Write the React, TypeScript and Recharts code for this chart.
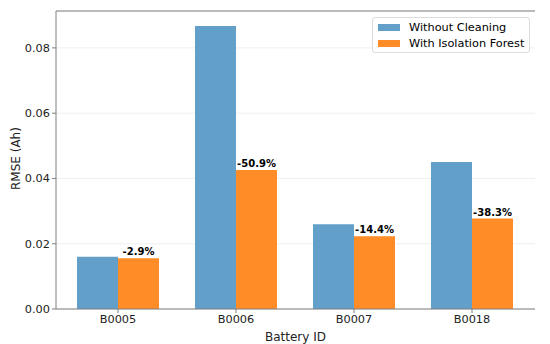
import { BarChart, Bar, XAxis, YAxis, CartesianGrid, LabelList, ReferenceLine } from 'recharts'

const batteries = ['B0005', 'B0006', 'B0007', 'B0018']
const withoutCleaning = [0.0160, 0.0867, 0.0260, 0.0450]
const withIsolationForest = [0.01554, 0.0426, 0.02226, 0.0277]
const changeLabels = ['-2.9%', '-50.9%', '-14.4%', '-38.3%']
const yTicks = [0, 0.02, 0.04, 0.06, 0.08]
const yMax = 0.0913

const BLUE = '#62a0ca'
const ORANGE = '#ff8c26'
const FRAME = '#7f7f7f'
const FONT = '"DejaVu Sans", sans-serif'

const data = batteries.map((b, i) => ({
  battery: b,
  without: withoutCleaning[i],
  withIF: withIsolationForest[i],
  change: changeLabels[i],
}))

// legend drawn as an overlay so it doesn't push the plot area down
function LegendBox() {
  const items = [
    { label: 'Without Cleaning', color: BLUE },
    { label: 'With Isolation Forest', color: ORANGE },
  ]
  return (
    <div
      style={{
        position: 'absolute',
        left: 372,
        top: 17,
        width: 158,
        height: 36,
        boxSizing: 'border-box',
        border: '1px solid #dcdcdc',
        borderRadius: 3,
        background: 'rgba(255,255,255,0.8)',
        padding: '1px 0 0 5px',
        fontFamily: FONT,
        fontSize: 11.3,
        color: '#000',
      }}
    >
      {items.map((it) => (
        <div key={it.label} style={{ display: 'flex', alignItems: 'center', height: 16.5 }}>
          <span style={{ width: 22, height: 7, background: it.color, marginRight: 9, display: 'inline-block' }} />
          <span>{it.label}</span>
        </div>
      ))}
    </div>
  )
}

export default function App() {
  return (
    <div style={{ position: 'absolute', left: 0, top: 0, width: 550, height: 344, background: '#fff' }}>
      <BarChart
        width={550}
        height={344}
        data={data}
        margin={{ top: 11, right: 15, left: 0, bottom: 0 }}
        barGap={0}
        barSize={41}
      >
        <CartesianGrid vertical={false} stroke="#ebebeb" strokeWidth={0.8} />
        <XAxis
          dataKey="battery"
          height={35}
          padding={{ left: 3, right: 4 }}
          axisLine={{ stroke: FRAME }}
          tickLine={{ stroke: FRAME }}
          tickSize={4}
          tick={{ fontSize: 11.3, fill: '#222', fontFamily: FONT }}
          label={{ value: 'Battery ID', position: 'insideBottom', offset: 3, fontSize: 12, fill: '#222', fontFamily: FONT }}
        />
        <YAxis
          width={56}
          domain={[0, yMax]}
          ticks={yTicks}
          allowDataOverflow
          tickFormatter={(v: number) => v.toFixed(2)}
          axisLine={{ stroke: FRAME }}
          tickLine={{ stroke: FRAME }}
          tickSize={4}
          tickMargin={2}
          tick={{ fontSize: 11.3, fill: '#222', fontFamily: FONT }}
          label={{ value: 'RMSE (Ah)', angle: -90, position: 'insideLeft', offset: 16, dy: 30, fontSize: 12, fill: '#222', fontFamily: FONT }}
        />
        <YAxis yAxisId="right" orientation="right" width={0} domain={[0, yMax]} tick={false} tickLine={false} axisLine={{ stroke: FRAME }} />
        <ReferenceLine y={yMax} stroke={FRAME} ifOverflow="visible" />
        <Bar dataKey="without" name="Without Cleaning" fill={BLUE} isAnimationActive={false} />
        <Bar dataKey="withIF" name="With Isolation Forest" fill={ORANGE} isAnimationActive={false}>
          <LabelList
            dataKey="change"
            position="top"
            offset={3}
            style={{ fontSize: 10, fontWeight: 'bold', fill: '#000', fontFamily: FONT }}
          />
        </Bar>
      </BarChart>
      <LegendBox />
    </div>
  )
}
